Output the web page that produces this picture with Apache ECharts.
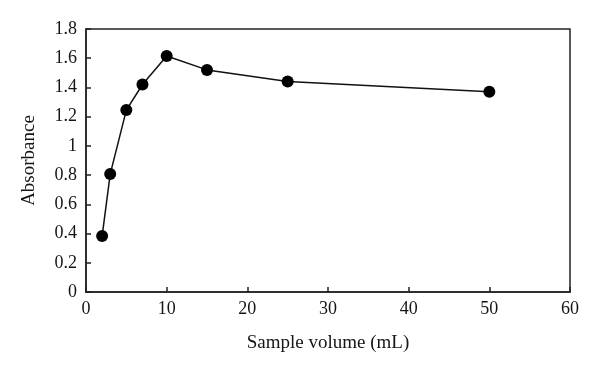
<!DOCTYPE html>
<html><head><meta charset="utf-8">
<script src="https://cdn.jsdelivr.net/npm/echarts@6/dist/echarts.min.js"></script>
<style>html,body{margin:0;padding:0;background:#fff}#c{width:600px;height:372px}</style>
</head><body><div id="c"></div>
<script>
const volumes = [2, 3, 5, 7, 10, 15, 25, 50];
const absorbance = [0.383, 0.807, 1.245, 1.42, 1.615, 1.52, 1.44, 1.37];
const xTitle = 'Sample volume (mL)';
const yTitle = 'Absorbance';

const chart = echarts.init(document.getElementById('c'), null, {renderer: 'canvas'});
const font = 'Liberation Serif';
const axisCommon = {
  axisLine: {show: true, lineStyle: {color: '#222', width: 1.5}},
  axisTick: {show: true, inside: true, length: 5, lineStyle: {color: '#222', width: 1.5}},
  splitLine: {show: false},
  axisLabel: {color: '#151515', fontFamily: font, fontSize: 18},
  nameTextStyle: {color: '#151515', fontFamily: font, fontSize: 19}
};
chart.setOption({
  animation: false,
  backgroundColor: '#fff',
  grid: {left: 86, top: 29, right: 30, bottom: 80, show: true, borderColor: '#222', borderWidth: 1.5, backgroundColor: 'transparent'},
  xAxis: Object.assign({}, axisCommon, {
    type: 'value', min: 0, max: 60, interval: 10,
    name: xTitle, nameLocation: 'middle', nameGap: 42,
    axisLabel: Object.assign({}, axisCommon.axisLabel, {margin: 8})
  }),
  yAxis: Object.assign({}, axisCommon, {
    type: 'value', min: 0, max: 1.8, interval: 0.2,
    name: yTitle, nameLocation: 'middle', nameGap: 47,
    axisLabel: Object.assign({}, axisCommon.axisLabel, {margin: 9, formatter: v => String(+v.toFixed(1))})
  }),
  series: [{
    type: 'line',
    data: volumes.map((v, i) => [v, absorbance[i]]),
    symbol: 'circle', symbolSize: 12,
    lineStyle: {color: '#111', width: 1.5},
    itemStyle: {color: '#000'}
  }]
});
</script></body></html>
